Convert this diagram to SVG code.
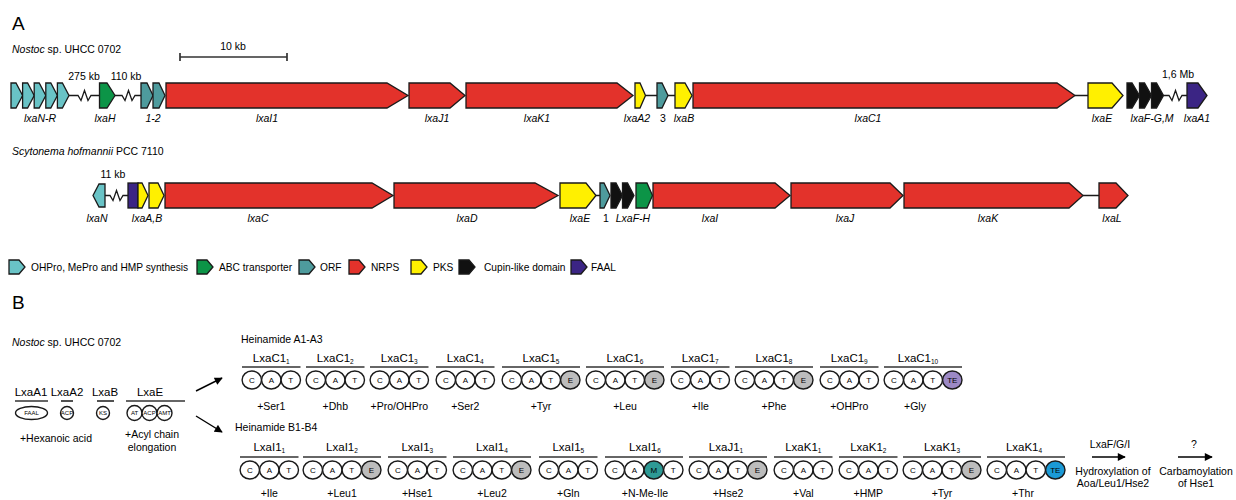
<svg xmlns="http://www.w3.org/2000/svg" width="1236" height="500" viewBox="0 0 1236 500">
<defs>
<marker id="ah" viewBox="0 0 10 10" refX="9" refY="5" markerWidth="10" markerHeight="8" markerUnits="userSpaceOnUse" orient="auto"><path d="M0,0 L10,5 L0,10 z" fill="#000"/></marker>
<ellipse id="d" rx="9.7" ry="9"/>
</defs>
<style>
text{font-family:"Liberation Sans",Arial,sans-serif;fill:#000}
.h{font-size:19px}
.sp{font-size:10.5px}
.g{font-size:10.5px;font-style:italic;text-anchor:middle}
.n{font-size:10.5px;text-anchor:middle}
.lg{font-size:10.2px}
.gene{stroke:#1a1a1a;stroke-width:1.3}
.nrps{fill:#e3322b}.pks{fill:#fff000}.oh{fill:#69c3c6}.abc{fill:#0c9447}.orf{fill:#4e9b9d}.cup{fill:#111}.faal{fill:#3b2584}
.bb{fill:none;stroke:#1a1a1a;stroke-width:1.3}
.ml{font-size:11.5px;text-anchor:middle}
.aa{font-size:10.5px;text-anchor:middle}
.bar{stroke:#333;stroke-width:1.7}
.dom{fill:#fff;stroke:#1a1a1a;stroke-width:1.4}
.e{fill:#bcbcbc}.te1{fill:#9c89c5}.m{fill:#2e9a95}.te2{fill:#1b9ad6}
.dl{font-size:8px;text-anchor:middle}
.sl{font-size:6px;text-anchor:middle}
.arr{stroke:#000;stroke-width:1.4;fill:none}
.sb{font-size:6.5px}
</style>

<!-- Section A -->
<text class="h" x="12" y="30">A</text>
<text class="sp" x="12" y="53"><tspan font-style="italic">Nostoc</tspan> sp. UHCC 0702</text>
<g id="scalebar">
<path class="bar" d="M180,57 H287 M180,53 V61 M287,53 V61" fill="none"/>
<text class="n" x="233" y="50">10 kb</text>
</g>

<g id="backbone-row1">
<path class="bb" d="M69,95.5 H78 L81,100.5 L84.5,90.5 L88,100.5 L91,95.5 H99.5 M115,95.5 H122 L125,100.5 L128.5,90.5 L132,100.5 L135,95.5 H141 M645.5,95.5 H657 M668,95.5 H675 M1075,95.5 H1088 M1163.5,95.5 H1169 L1172,100.5 L1175.5,90.5 L1179,100.5 L1182,95.5 H1187"/>
<text class="n" x="84" y="80">275 kb</text>
<text class="n" x="126" y="80">110 kb</text>
<text class="n" x="1178" y="78">1,6 Mb</text>
</g>

<g id="lxaN-R">
<polygon class="gene oh" points="11,83 16,83 22.6,95.5 16,108 11,108"/>
<polygon class="gene oh" points="22.6,83 27.6,83 34.2,95.5 27.6,108 22.6,108"/>
<polygon class="gene oh" points="34.2,83 39.2,83 45.8,95.5 39.2,108 34.2,108"/>
<polygon class="gene oh" points="45.8,83 50.8,83 57.4,95.5 50.8,108 45.8,108"/>
<polygon class="gene oh" points="57.4,83 62.4,83 69,95.5 62.4,108 57.4,108"/>
<text class="g" x="40" y="122">lxaN-R</text>
</g>
<g id="lxaH"><polygon class="gene abc" points="99.5,83 107,83 115,95.5 107,108 99.5,108"/><text class="g" x="105" y="122">lxaH</text></g>
<g id="orf1-2">
<polygon class="gene orf" points="141,83 147,83 153,95.5 147,108 141,108"/>
<polygon class="gene orf" points="153,83 159,83 165,95.5 159,108 153,108"/>
<text class="g" x="153" y="122">1-2</text>
</g>
<g id="lxaI1"><polygon class="gene nrps" points="166,83 387,83 408,95.5 387,108 166,108"/><text class="g" x="267" y="122">lxaI1</text></g>
<g id="lxaJ1"><polygon class="gene nrps" points="409,83 450,83 465,95.5 450,108 409,108"/><text class="g" x="437" y="122">lxaJ1</text></g>
<g id="lxaK1"><polygon class="gene nrps" points="466,83 617,83 633,95.5 617,108 466,108"/><text class="g" x="537" y="122">lxaK1</text></g>
<g id="lxaA2"><polygon class="gene pks" points="635,83 640,83 645.5,95.5 640,108 635,108"/><text class="g" x="637" y="122">lxaA2</text></g>
<g id="orf3"><polygon class="gene orf" points="657,83 662,83 668,95.5 662,108 657,108"/><text class="n" x="663" y="122">3</text></g>
<g id="lxaB"><polygon class="gene pks" points="675,83 685,83 692,95.5 685,108 675,108"/><text class="g" x="684" y="122">lxaB</text></g>
<g id="lxaC1"><polygon class="gene nrps" points="693,83 1057,83 1075,95.5 1057,108 693,108"/><text class="g" x="868" y="122">lxaC1</text></g>
<g id="lxaE-1"><polygon class="gene pks" points="1088,83 1112,83 1123,95.5 1112,108 1088,108"/><text class="g" x="1102" y="122">lxaE</text></g>
<g id="lxaF-G-M">
<polygon class="gene cup" points="1127,83 1132,83 1139.5,95.5 1132,108 1127,108"/>
<polygon class="gene cup" points="1139.5,83 1144.5,83 1151.5,95.5 1144.5,108 1139.5,108"/>
<polygon class="gene cup" points="1151.5,83 1156.5,83 1163.5,95.5 1156.5,108 1151.5,108"/>
<text class="g" x="1152" y="122">lxaF-G,M</text>
</g>
<g id="lxaA1"><polygon class="gene faal" points="1187,83 1198,83 1207,95.5 1198,108 1187,108"/><text class="g" x="1197" y="122">lxaA1</text></g>

<text class="sp" x="12" y="155"><tspan font-style="italic">Scytonema hofmannii</tspan> PCC 7110</text>

<g id="backbone-row2">
<path class="bb" d="M105,195.5 H110 L113,200.5 L116.5,190.5 L120,200.5 L123,195.5 H128 M596,195.5 H600 M1083,195.5 H1099"/>
<text class="n" x="113" y="178">11 kb</text>
</g>
<g id="lxaN"><polygon class="gene oh" points="105,184 99,184 93,195.5 99,207 105,207"/><text class="g" x="97" y="222">lxaN</text></g>
<g id="lxaA-B">
<rect class="gene faal" x="128" y="183" width="10" height="25"/>
<polygon class="gene pks" points="138,183 142,183 148,195.5 142,208 138,208"/>
<polygon class="gene pks" points="149,183 158,183 164,195.5 158,208 149,208"/>
<text class="g" x="147" y="222">lxaA,B</text>
</g>
<g id="lxaC"><polygon class="gene nrps" points="165,183 372,183 393,195.5 372,208 165,208"/><text class="g" x="258" y="222">lxaC</text></g>
<g id="lxaD"><polygon class="gene nrps" points="394,183 535,183 558,195.5 535,208 394,208"/><text class="g" x="467" y="222">lxaD</text></g>
<g id="lxaE-2"><polygon class="gene pks" points="560,183 586,183 596,195.5 586,208 560,208"/><text class="g" x="580" y="222">lxaE</text></g>
<g id="orf1"><polygon class="gene orf" points="600,183 604,183 610,195.5 604,208 600,208"/><text class="n" x="606" y="222">1</text></g>
<g id="LxaF-H">
<polygon class="gene cup" points="611,183 616,183 622.5,195.5 616,208 611,208"/>
<polygon class="gene cup" points="622.5,183 627.5,183 634,195.5 627.5,208 622.5,208"/>
<polygon class="gene abc" points="636,183 647,183 652.5,195.5 647,208 636,208"/>
<text class="g" x="633" y="222">LxaF-H</text>
</g>
<g id="lxaI"><polygon class="gene nrps" points="653,183 775,183 790,195.5 775,208 653,208"/><text class="g" x="710" y="222">lxaI</text></g>
<g id="lxaJ"><polygon class="gene nrps" points="791,183 890,183 903,195.5 890,208 791,208"/><text class="g" x="845" y="222">lxaJ</text></g>
<g id="lxaK"><polygon class="gene nrps" points="904,183 1069,183 1083,195.5 1069,208 904,208"/><text class="g" x="988" y="222">lxaK</text></g>
<g id="lxaL"><polygon class="gene nrps" points="1099,183 1116,183 1128,195.5 1116,208 1099,208"/><text class="g" x="1112" y="222">lxaL</text></g>

<g id="legend">
<polygon class="gene oh" points="9,260 19,260 25,267 19,274 9,274"/><text class="lg" x="31" y="271">OHPro, MePro and HMP synthesis</text>
<polygon class="gene abc" points="197,260 207,260 213,267 207,274 197,274"/><text class="lg" x="219" y="271">ABC transporter</text>
<polygon class="gene orf" points="299,260 309,260 315,267 309,274 299,274"/><text class="lg" x="320" y="271">ORF</text>
<polygon class="gene nrps" points="349,260 359,260 365,267 359,274 349,274"/><text class="lg" x="371" y="271">NRPS</text>
<polygon class="gene pks" points="411,260 421,260 427,267 421,274 411,274"/><text class="lg" x="433" y="271">PKS</text>
<polygon class="gene cup" points="459,260 469,260 475,267 469,274 459,274"/><text class="lg" x="484" y="271">Cupin-like domain</text>
<polygon class="gene faal" points="571,260 581,260 587,267 581,274 571,274"/><text class="lg" x="591" y="271">FAAL</text>
</g>

<!-- Section B -->
<text class="h" x="12" y="309">B</text>
<text class="sp" x="12" y="346"><tspan font-style="italic">Nostoc</tspan> sp. UHCC 0702</text>

<g id="LxaA1">
<text class="ml" x="31" y="396">LxaA1</text>
<path class="bar" d="M15,401 H48"/>
<ellipse class="dom" cx="31.5" cy="413" rx="16" ry="6.5"/><text class="sl" x="31.5" y="415">FAAL</text>
</g>
<g id="LxaA2">
<text class="ml" x="67" y="396">LxaA2</text>
<path class="bar" d="M61,401 H73"/>
<circle class="dom" cx="67" cy="413" r="6.5"/><text class="sl" x="67" y="415" font-size="5.5">ACP</text>
</g>
<g id="LxaB">
<text class="ml" x="105" y="396">LxaB</text>
<path class="bar" d="M97,401 H114"/>
<circle class="dom" cx="103" cy="413" r="6.5"/><text class="sl" x="103" y="415">KS</text>
</g>
<g id="LxaE">
<text class="ml" x="150" y="396">LxaE</text>
<path class="bar" d="M126,401 H185"/>
<circle class="dom" cx="134.5" cy="413" r="7.5"/><text class="sl" x="134.5" y="415">AT</text>
<circle class="dom" cx="149.5" cy="413" r="7.5"/><text class="sl" x="149.5" y="415" font-size="5.5">ACP</text>
<circle class="dom" cx="164.5" cy="413" r="7.5"/><text class="sl" x="164.5" y="415" font-size="5.5">AMT</text>
</g>
<text class="aa" x="56" y="442">+Hexanoic acid</text>
<text class="aa" x="152" y="438">+Acyl chain</text>
<text class="aa" x="152" y="451">elongation</text>

<g id="connectors">
<path class="arr" d="M196,391 L222,378" marker-end="url(#ah)"/>
<path class="arr" d="M196,416 L222,432" marker-end="url(#ah)"/>
<path class="arr" d="M1092,457 H1125" marker-end="url(#ah)"/>
<path class="arr" d="M1178,457 H1212" marker-end="url(#ah)"/>
</g>

<text class="aa" x="241" y="343" style="text-anchor:start">Heinamide A1-A3</text>

<g id="LxaC1_1"><text class="ml" x="271.3" y="362">LxaC1<tspan class="sb" dy="2">1</tspan></text><path class="bar" d="M242,367 H300.5"/>
<use href="#d" class="dom" x="251.8" y="380"/><use href="#d" class="dom" x="271.3" y="380"/><use href="#d" class="dom" x="290.8" y="380"/>
<text class="dl" x="251.8" y="383">C</text><text class="dl" x="271.3" y="383">A</text><text class="dl" x="290.8" y="383">T</text>
<text class="aa" x="271.3" y="410">+Ser1</text></g>

<g id="LxaC1_2"><text class="ml" x="335.3" y="362">LxaC1<tspan class="sb" dy="2">2</tspan></text><path class="bar" d="M306,367 H364.5"/>
<use href="#d" class="dom" x="315.8" y="380"/><use href="#d" class="dom" x="335.3" y="380"/><use href="#d" class="dom" x="354.8" y="380"/>
<text class="dl" x="315.8" y="383">C</text><text class="dl" x="335.3" y="383">A</text><text class="dl" x="354.8" y="383">T</text>
<text class="aa" x="335.3" y="410">+Dhb</text></g>

<g id="LxaC1_3"><text class="ml" x="399.3" y="362">LxaC1<tspan class="sb" dy="2">3</tspan></text><path class="bar" d="M370,367 H428.5"/>
<use href="#d" class="dom" x="379.8" y="380"/><use href="#d" class="dom" x="399.3" y="380"/><use href="#d" class="dom" x="418.8" y="380"/>
<text class="dl" x="379.8" y="383">C</text><text class="dl" x="399.3" y="383">A</text><text class="dl" x="418.8" y="383">T</text>
<text class="aa" x="399.3" y="410">+Pro/OHPro</text></g>

<g id="LxaC1_4"><text class="ml" x="465.3" y="362">LxaC1<tspan class="sb" dy="2">4</tspan></text><path class="bar" d="M436,367 H494.5"/>
<use href="#d" class="dom" x="445.8" y="380"/><use href="#d" class="dom" x="465.3" y="380"/><use href="#d" class="dom" x="484.8" y="380"/>
<text class="dl" x="445.8" y="383">C</text><text class="dl" x="465.3" y="383">A</text><text class="dl" x="484.8" y="383">T</text>
<text class="aa" x="465.3" y="410">+Ser2</text></g>

<g id="LxaC1_5"><text class="ml" x="541" y="362">LxaC1<tspan class="sb" dy="2">5</tspan></text><path class="bar" d="M502,367 H580"/>
<use href="#d" class="dom" x="511.8" y="380"/><use href="#d" class="dom" x="531.3" y="380"/><use href="#d" class="dom" x="550.8" y="380"/><use href="#d" class="dom e" x="570.3" y="380"/>
<text class="dl" x="511.8" y="383">C</text><text class="dl" x="531.3" y="383">A</text><text class="dl" x="550.8" y="383">T</text><text class="dl" x="570.3" y="383">E</text>
<text class="aa" x="541" y="410">+Tyr</text></g>

<g id="LxaC1_6"><text class="ml" x="625" y="362">LxaC1<tspan class="sb" dy="2">6</tspan></text><path class="bar" d="M586,367 H664"/>
<use href="#d" class="dom" x="595.8" y="380"/><use href="#d" class="dom" x="615.3" y="380"/><use href="#d" class="dom" x="634.8" y="380"/><use href="#d" class="dom e" x="654.3" y="380"/>
<text class="dl" x="595.8" y="383">C</text><text class="dl" x="615.3" y="383">A</text><text class="dl" x="634.8" y="383">T</text><text class="dl" x="654.3" y="383">E</text>
<text class="aa" x="625" y="410">+Leu</text></g>

<g id="LxaC1_7"><text class="ml" x="700.3" y="362">LxaC1<tspan class="sb" dy="2">7</tspan></text><path class="bar" d="M671,367 H729.5"/>
<use href="#d" class="dom" x="680.8" y="380"/><use href="#d" class="dom" x="700.3" y="380"/><use href="#d" class="dom" x="719.8" y="380"/>
<text class="dl" x="680.8" y="383">C</text><text class="dl" x="700.3" y="383">A</text><text class="dl" x="719.8" y="383">T</text>
<text class="aa" x="700.3" y="410">+Ile</text></g>

<g id="LxaC1_8"><text class="ml" x="774" y="362">LxaC1<tspan class="sb" dy="2">8</tspan></text><path class="bar" d="M735,367 H813"/>
<use href="#d" class="dom" x="744.8" y="380"/><use href="#d" class="dom" x="764.3" y="380"/><use href="#d" class="dom" x="783.8" y="380"/><use href="#d" class="dom e" x="803.3" y="380"/>
<text class="dl" x="744.8" y="383">C</text><text class="dl" x="764.3" y="383">A</text><text class="dl" x="783.8" y="383">T</text><text class="dl" x="803.3" y="383">E</text>
<text class="aa" x="774" y="410">+Phe</text></g>

<g id="LxaC1_9"><text class="ml" x="849.3" y="362">LxaC1<tspan class="sb" dy="2">9</tspan></text><path class="bar" d="M820,367 H878.5"/>
<use href="#d" class="dom" x="829.8" y="380"/><use href="#d" class="dom" x="849.3" y="380"/><use href="#d" class="dom" x="868.8" y="380"/>
<text class="dl" x="829.8" y="383">C</text><text class="dl" x="849.3" y="383">A</text><text class="dl" x="868.8" y="383">T</text>
<text class="aa" x="849.3" y="410">+OHPro</text></g>

<g id="LxaC1_10"><text class="ml" x="918" y="362">LxaC1<tspan class="sb" dy="2">10</tspan></text><path class="bar" d="M884,367 H962"/>
<use href="#d" class="dom" x="893.8" y="380"/><use href="#d" class="dom" x="913.3" y="380"/><use href="#d" class="dom" x="932.8" y="380"/><use href="#d" class="dom te1" x="952.3" y="380"/>
<text class="dl" x="893.8" y="383">C</text><text class="dl" x="913.3" y="383">A</text><text class="dl" x="932.8" y="383">T</text><text class="dl" x="952.3" y="383">TE</text>
<text class="aa" x="915" y="410">+Gly</text></g>

<text class="aa" x="235" y="431" style="text-anchor:start">Heinamide B1-B4</text>

<g id="LxaI1_1"><text class="ml" x="269.3" y="451">LxaI1<tspan class="sb" dy="2">1</tspan></text><path class="bar" d="M240,457 H298.5"/>
<use href="#d" class="dom" x="249.8" y="470"/><use href="#d" class="dom" x="269.3" y="470"/><use href="#d" class="dom" x="288.8" y="470"/>
<text class="dl" x="249.8" y="473">C</text><text class="dl" x="269.3" y="473">A</text><text class="dl" x="288.8" y="473">T</text>
<text class="aa" x="269.3" y="497">+Ile</text></g>

<g id="LxaI1_2"><text class="ml" x="342" y="451">LxaI1<tspan class="sb" dy="2">2</tspan></text><path class="bar" d="M303,457 H381"/>
<use href="#d" class="dom" x="312.8" y="470"/><use href="#d" class="dom" x="332.3" y="470"/><use href="#d" class="dom" x="351.8" y="470"/><use href="#d" class="dom e" x="371.3" y="470"/>
<text class="dl" x="312.8" y="473">C</text><text class="dl" x="332.3" y="473">A</text><text class="dl" x="351.8" y="473">T</text><text class="dl" x="371.3" y="473">E</text>
<text class="aa" x="342" y="497">+Leu1</text></g>

<g id="LxaI1_3"><text class="ml" x="417.3" y="451">LxaI1<tspan class="sb" dy="2">3</tspan></text><path class="bar" d="M388,457 H446.5"/>
<use href="#d" class="dom" x="397.8" y="470"/><use href="#d" class="dom" x="417.3" y="470"/><use href="#d" class="dom" x="436.8" y="470"/>
<text class="dl" x="397.8" y="473">C</text><text class="dl" x="417.3" y="473">A</text><text class="dl" x="436.8" y="473">T</text>
<text class="aa" x="417.3" y="497">+Hse1</text></g>

<g id="LxaI1_4"><text class="ml" x="492" y="451">LxaI1<tspan class="sb" dy="2">4</tspan></text><path class="bar" d="M453,457 H531"/>
<use href="#d" class="dom" x="462.8" y="470"/><use href="#d" class="dom" x="482.3" y="470"/><use href="#d" class="dom" x="501.8" y="470"/><use href="#d" class="dom e" x="521.3" y="470"/>
<text class="dl" x="462.8" y="473">C</text><text class="dl" x="482.3" y="473">A</text><text class="dl" x="501.8" y="473">T</text><text class="dl" x="521.3" y="473">E</text>
<text class="aa" x="492" y="497">+Leu2</text></g>

<g id="LxaI1_5"><text class="ml" x="568.3" y="451">LxaI1<tspan class="sb" dy="2">5</tspan></text><path class="bar" d="M539,457 H597.5"/>
<use href="#d" class="dom" x="548.8" y="470"/><use href="#d" class="dom" x="568.3" y="470"/><use href="#d" class="dom" x="587.8" y="470"/>
<text class="dl" x="548.8" y="473">C</text><text class="dl" x="568.3" y="473">A</text><text class="dl" x="587.8" y="473">T</text>
<text class="aa" x="568.3" y="497">+Gln</text></g>

<g id="LxaI1_6"><text class="ml" x="645" y="451">LxaI1<tspan class="sb" dy="2">6</tspan></text><path class="bar" d="M605,457 H683"/>
<use href="#d" class="dom" x="614.8" y="470"/><use href="#d" class="dom" x="634.3" y="470"/><use href="#d" class="dom m" x="653.8" y="470"/><use href="#d" class="dom" x="673.3" y="470"/>
<text class="dl" x="614.8" y="473">C</text><text class="dl" x="634.3" y="473">A</text><text class="dl" x="653.8" y="473">M</text><text class="dl" x="673.3" y="473">T</text>
<text class="aa" x="645" y="497">+N-Me-Ile</text></g>

<g id="LxaJ1_1"><text class="ml" x="726" y="451">LxaJ1<tspan class="sb" dy="2">1</tspan></text><path class="bar" d="M689,457 H767"/>
<use href="#d" class="dom" x="698.8" y="470"/><use href="#d" class="dom" x="718.3" y="470"/><use href="#d" class="dom" x="737.8" y="470"/><use href="#d" class="dom e" x="757.3" y="470"/>
<text class="dl" x="698.8" y="473">C</text><text class="dl" x="718.3" y="473">A</text><text class="dl" x="737.8" y="473">T</text><text class="dl" x="757.3" y="473">E</text>
<text class="aa" x="728" y="497">+Hse2</text></g>

<g id="LxaK1_1"><text class="ml" x="803.3" y="451">LxaK1<tspan class="sb" dy="2">1</tspan></text><path class="bar" d="M774,457 H832.5"/>
<use href="#d" class="dom" x="783.8" y="470"/><use href="#d" class="dom" x="803.3" y="470"/><use href="#d" class="dom" x="822.8" y="470"/>
<text class="dl" x="783.8" y="473">C</text><text class="dl" x="803.3" y="473">A</text><text class="dl" x="822.8" y="473">T</text>
<text class="aa" x="803.3" y="497">+Val</text></g>

<g id="LxaK1_2"><text class="ml" x="868.3" y="451">LxaK1<tspan class="sb" dy="2">2</tspan></text><path class="bar" d="M839,457 H897.5"/>
<use href="#d" class="dom" x="848.8" y="470"/><use href="#d" class="dom" x="868.3" y="470"/><use href="#d" class="dom" x="887.8" y="470"/>
<text class="dl" x="848.8" y="473">C</text><text class="dl" x="868.3" y="473">A</text><text class="dl" x="887.8" y="473">T</text>
<text class="aa" x="868.3" y="497">+HMP</text></g>

<g id="LxaK1_3"><text class="ml" x="942" y="451">LxaK1<tspan class="sb" dy="2">3</tspan></text><path class="bar" d="M903,457 H981"/>
<use href="#d" class="dom" x="912.8" y="470"/><use href="#d" class="dom" x="932.3" y="470"/><use href="#d" class="dom" x="951.8" y="470"/><use href="#d" class="dom e" x="971.3" y="470"/>
<text class="dl" x="912.8" y="473">C</text><text class="dl" x="932.3" y="473">A</text><text class="dl" x="951.8" y="473">T</text><text class="dl" x="971.3" y="473">E</text>
<text class="aa" x="942" y="497">+Tyr</text></g>

<g id="LxaK1_4"><text class="ml" x="1024" y="451">LxaK1<tspan class="sb" dy="2">4</tspan></text><path class="bar" d="M987,457 H1065"/>
<use href="#d" class="dom" x="996.8" y="470"/><use href="#d" class="dom" x="1016.3" y="470"/><use href="#d" class="dom" x="1035.8" y="470"/><use href="#d" class="dom te2" x="1055.3" y="470"/>
<text class="dl" x="996.8" y="473">C</text><text class="dl" x="1016.3" y="473">A</text><text class="dl" x="1035.8" y="473">T</text><text class="dl" x="1055.3" y="473">TE</text>
<text class="aa" x="1023" y="497">+Thr</text></g>

<g id="tailoring">
<text class="aa" x="1110" y="448">LxaF/G/I</text>
<text class="aa" x="1113" y="475">Hydroxylation of</text>
<text class="aa" x="1113" y="487">Aoa/Leu1/Hse2</text>
<text class="aa" x="1194" y="448">?</text>
<text class="aa" x="1196" y="475">Carbamoylation</text>
<text class="aa" x="1196" y="487">of Hse1</text>
</g>
</svg>
